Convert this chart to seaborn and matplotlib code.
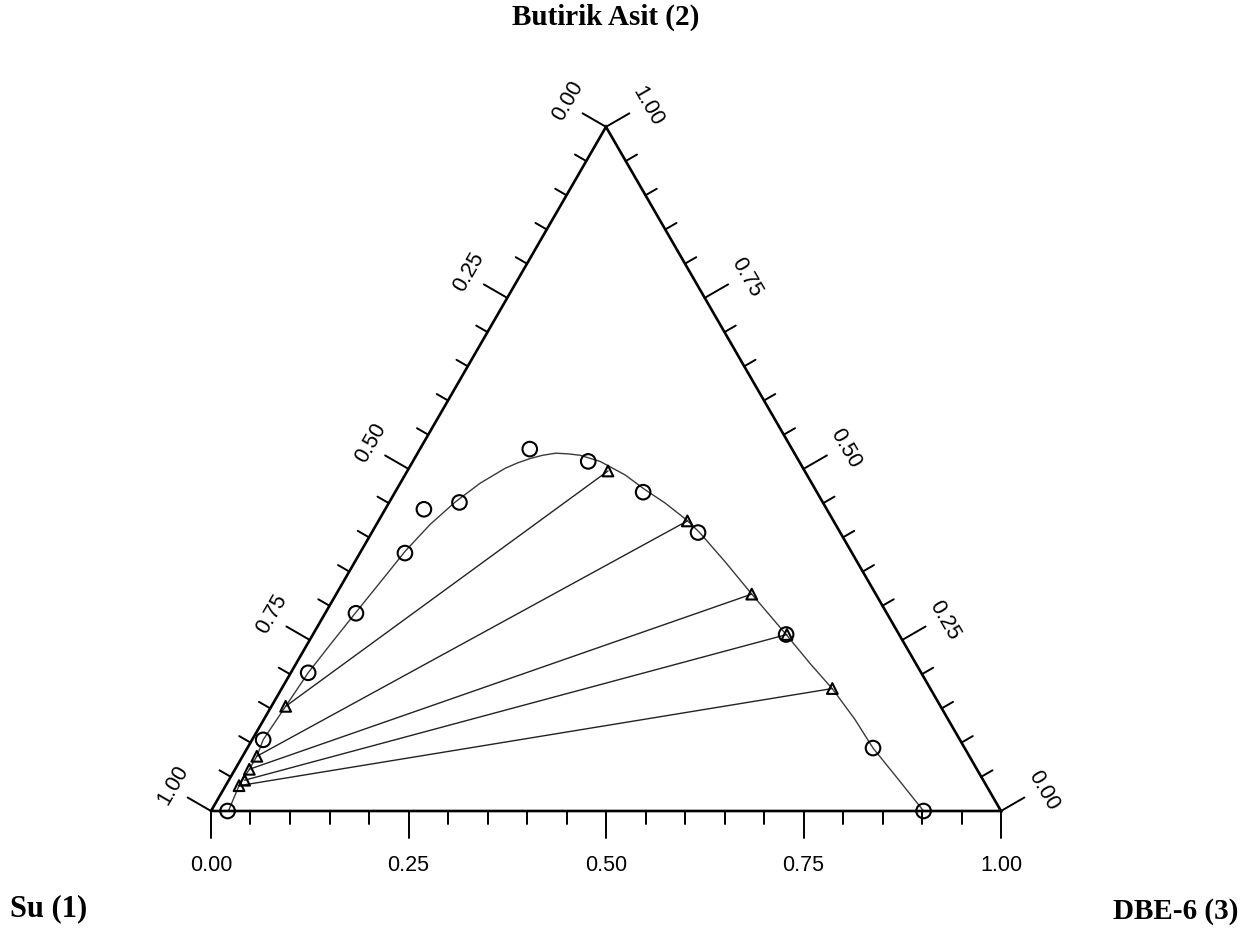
import matplotlib
matplotlib.use("Agg")
import numpy as np
import pandas as pd
import matplotlib.pyplot as plt
import seaborn as sns

# Liquid-liquid equilibrium of water (1) + butyric acid (2) + DBE-6 (3).
# Each composition is given as (butyric acid fraction, DBE-6 fraction);
# the water fraction is the remainder.

# Experimental binodal (cloud point) compositions
binodal_acid = [0.000, 0.104, 0.202, 0.289, 0.377, 0.441, 0.451, 0.529,
                0.511, 0.466, 0.407, 0.258, 0.092, 0.000]
binodal_dbe = [0.021, 0.014, 0.022, 0.039, 0.057, 0.049, 0.089, 0.139,
               0.222, 0.314, 0.413, 0.599, 0.792, 0.902]

# Smoothed binodal curve
curve_acid = [0.000, 0.037, 0.061, 0.080, 0.104, 0.153, 0.202, 0.247,
              0.289, 0.334, 0.380, 0.419, 0.451, 0.479, 0.501, 0.509,
              0.515, 0.520, 0.523, 0.522, 0.520, 0.511, 0.491, 0.470,
              0.450, 0.425, 0.407, 0.364, 0.317, 0.258, 0.216, 0.178,
              0.134, 0.092, 0.047, 0.000]
curve_dbe = [0.022, 0.017, 0.018, 0.018, 0.014, 0.018, 0.022, 0.030,
             0.038, 0.047, 0.056, 0.068, 0.083, 0.101, 0.122, 0.134,
             0.146, 0.160, 0.175, 0.191, 0.207, 0.237, 0.279, 0.314,
             0.350, 0.390, 0.415, 0.469, 0.526, 0.599, 0.650, 0.698,
             0.748, 0.792, 0.846, 0.902]

# Tie lines: water-rich (raffinate) phase and solvent-rich (extract) phase
raff_acid = [0.153, 0.080, 0.061, 0.045, 0.037]
raff_dbe = [0.018, 0.018, 0.018, 0.020, 0.017]
ext_acid = [0.497, 0.424, 0.317, 0.258, 0.179]
ext_dbe = [0.254, 0.391, 0.526, 0.600, 0.697]

tick_values = [i / 20 for i in range(21)]
tick_labels = {0.0: "0.00", 0.25: "0.25", 0.5: "0.50", 0.75: "0.75", 1.0: "1.00"}

title_top = "Butirik Asit (2)"
title_left = "Su (1)"
title_right = "DBE-6 (3)"

H = np.sqrt(3) / 2
PX = 790.0  # pixels per unit side length


def to_xy(acid, dbe):
    acid = np.asarray(acid, dtype=float)
    dbe = np.asarray(dbe, dtype=float)
    return dbe + acid / 2, acid * H


sns.set_style("white")
plt.rcParams["font.family"] = ["Liberation Sans", "DejaVu Sans"]
plt.rcParams["text.color"] = "black"

W_PX, H_PX = 1248, 937
fig = plt.figure(figsize=(W_PX / 100, H_PX / 100), dpi=100)
ax = fig.add_axes([0, 0, 1, 1])

# Triangle frame
ax.plot([0, 1, 0.5, 0], [0, 0, H, 0], color="black", lw=1.9,
        solid_joinstyle="miter", zorder=3)

# Axis ticks and labels
major_len, minor_len = 27 / PX, 13 / PX
c30, s30 = np.cos(np.pi / 6), np.sin(np.pi / 6)
for t in tick_values:
    is_major = round(t, 2) in tick_labels
    L = major_len if is_major else minor_len
    lw = 1.4
    # bottom axis: DBE-6 fraction
    ax.plot([t, t], [0, -L], color="black", lw=lw, zorder=3)
    # left axis: water fraction
    lx, ly = (1 - t) / 2, (1 - t) * H
    ax.plot([lx, lx - c30 * L], [ly, ly + s30 * L], color="black", lw=lw, zorder=3)
    # right axis: butyric acid fraction
    rx, ry = 1 - t / 2, t * H
    ax.plot([rx, rx + c30 * L], [ry, ry + s30 * L], color="black", lw=lw, zorder=3)
    if is_major:
        lab = tick_labels[round(t, 2)]
        ax.text(t, -54 / PX, lab, ha="center", va="center", fontsize=15.5,
                color="black")
        ax.text(lx - 38 / PX, ly + 27 / PX, lab, ha="center", va="center",
                rotation=60, fontsize=15.5, rotation_mode="anchor", color="black")
        ax.text(rx + 42 / PX, ry + 21 / PX, lab, ha="center", va="center",
                rotation=-60, fontsize=15.5, rotation_mode="anchor", color="black")

# Binodal curve
cx, cy = to_xy(curve_acid, curve_dbe)
sns.lineplot(x=cx, y=cy, sort=False, estimator=None, color="#3a3a3a",
             lw=1.0, ax=ax, zorder=2, solid_joinstyle="round")

# Tie lines
rx_, ry_ = to_xy(raff_acid, raff_dbe)
ex_, ey_ = to_xy(ext_acid, ext_dbe)
ties = pd.DataFrame({
    "x": np.concatenate([rx_, ex_]),
    "y": np.concatenate([ry_, ey_]),
    "tie": list(range(len(rx_))) * 2,
})
sns.lineplot(data=ties, x="x", y="y", units="tie", estimator=None, sort=False,
             color="#222222", lw=1.0, ax=ax, zorder=2, legend=False)

# Experimental points
bx, by = to_xy(binodal_acid, binodal_dbe)
sns.scatterplot(x=bx, y=by, marker="o", s=110, facecolor="none",
                edgecolor="black", linewidth=1.5, ax=ax, zorder=4)
tri = pd.DataFrame({"x": np.concatenate([rx_, ex_]),
                    "y": np.concatenate([ry_, ey_])})
sns.scatterplot(data=tri, x="x", y="y", marker="^", s=60, facecolor="none",
                edgecolor="black", linewidth=1.5, ax=ax, zorder=4)

ax.set_xlim(-211 / PX, (W_PX - 211) / PX)
ax.set_ylim(-(H_PX - 812) / PX, 812 / PX)
ax.axis("off")

# Component names
serif = ["Liberation Serif", "DejaVu Serif"]
fig.text(606 / W_PX, 1 - 17 / H_PX, title_top, ha="center", va="center",
         fontsize=21, fontweight="bold", family=serif, color="black")
fig.text(10 / W_PX, 1 - 909 / H_PX, title_left, ha="left", va="center",
         fontsize=22, fontweight="bold", family=serif, color="black")
fig.text(1238 / W_PX, 1 - 912 / H_PX, title_right, ha="right", va="center",
         fontsize=21, fontweight="bold", family=serif, color="black")

fig.savefig("out.png", dpi=100)
